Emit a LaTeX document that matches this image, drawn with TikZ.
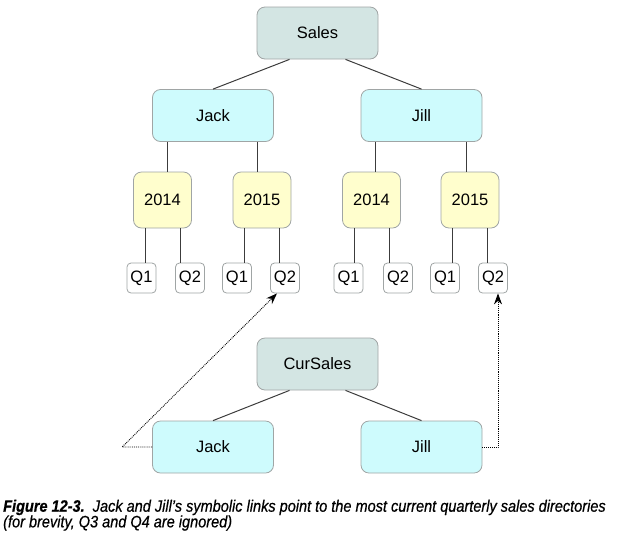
\documentclass[tikz,border=0pt]{standalone}
\usepackage{fontspec}
\setmainfont{Liberation Sans}
\newfontfamily\capfont[FakeStretch=0.88,FakeBold=0.6]{Liberation Sans}
\usetikzlibrary{calc,arrows.meta}
\definecolor{topfill}{RGB}{211,229,227}
\definecolor{userfill}{RGB}{206,251,253}
\definecolor{yearfill}{RGB}{255,254,205}
\definecolor{boxline}{RGB}{160,165,165}
\definecolor{linegray}{RGB}{60,60,60}
\begin{document}
\begin{tikzpicture}[x=1pt,y=-1pt,
    every node/.style={font=\fontsize{16.5}{18}\selectfont},
    box/.style={draw=boxline, line width=0.8pt, rounded corners=8pt, inner sep=0pt},
    rootbox/.style={box, fill=topfill, minimum width=121pt, minimum height=52pt},
    userbox/.style={box, fill=userfill, minimum width=121pt, minimum height=52pt},
    yearbox/.style={box, fill=yearfill, minimum width=58pt, minimum height=56pt},
    qbox/.style={box, fill=white, rounded corners=4pt, minimum width=29pt, minimum height=30pt},
    link/.style={draw=linegray, line width=1pt},
    symlink/.style={draw=black, densely dotted, line width=0.9pt, -{Stealth[length=11pt,width=8pt]}}]
    \useasboundingbox (0,0) rectangle (620,539);
    % upper tree
    \node[rootbox] (sales) at (317.5,33) {Sales};
    \node[userbox] (jack) at (213,115.5) {Jack};
    \node[userbox] (jill) at (421.5,115.5) {Jill};
    \node[yearbox] (ja14) at (162.5,200) {2014};
    \node[yearbox] (ja15) at (262,200) {2015};
    \node[yearbox] (ji14) at (371.5,200) {2014};
    \node[yearbox] (ji15) at (470,200) {2015};
    \node[qbox] (ja14q1) at (141.5,278) {Q1};
    \node[qbox] (ja14q2) at (190,278) {Q2};
    \node[qbox] (ja15q1) at (237,278) {Q1};
    \node[qbox] (ja15q2) at (285,278) {Q2};
    \node[qbox] (ji14q1) at (348.5,278) {Q1};
    \node[qbox] (ji14q2) at (398,278) {Q2};
    \node[qbox] (ji15q1) at (445,278) {Q1};
    \node[qbox] (ji15q2) at (493,278) {Q2};
    \draw[link] ($(sales.south)+(-28,0)$) -- (jack.north);
    \draw[link] ($(sales.south)+(28,0)$) -- (jill.north);
    \foreach \u/\a/\b in {jack/ja14/ja15, jill/ji14/ji15} {
        \draw[link] ([xshift=-46pt]\u.south) -- ([xshift=-46pt]\u.south |- \a.north);
        \draw[link] ([xshift=44.5pt]\u.south) -- ([xshift=44.5pt]\u.south |- \b.north);
    }
    \foreach \y in {ja14,ja15,ji14,ji15} {
        \draw[link] ([xshift=-17.5pt]\y.south) -- ([xshift=-17.5pt]\y.south |- \y q1.north);
        \draw[link] ([xshift=17.5pt]\y.south) -- ([xshift=17.5pt]\y.south |- \y q2.north);
    }
    % symbolic links
    \node[rootbox] (cursales) at (317.5,364) {CurSales};
    \node[userbox] (jack2) at (213,447) {Jack};
    \node[userbox] (jill2) at (421.5,447) {Jill};
    \draw[link] ($(cursales.south)+(-28,0)$) -- (jack2.north);
    \draw[link] ($(cursales.south)+(28,0)$) -- (jill2.north);
    \draw[symlink] (jack2.west) -- ++(-30,0) coordinate (bend) -- ([xshift=-8pt]ja15q2.south);
    \draw[symlink] (jill2.east) -| ([xshift=5pt]ji15q2.south);
    % caption
    \node[anchor=base west, inner sep=0pt, font=\capfont\fontsize{16.5}{16}\selectfont\itshape] (cap1) at (3,511.7)
        {\textbf{Figure 12-3.}\ \ Jack and Jill’s symbolic links point to the most current quarterly sales directories};
    \node[anchor=base west, inner sep=0pt, font=\capfont\fontsize{16.5}{16}\selectfont\itshape] (cap2) at (3,527.3)
        {(for brevity, Q3 and Q4 are ignored)};
\end{tikzpicture}
\end{document}
